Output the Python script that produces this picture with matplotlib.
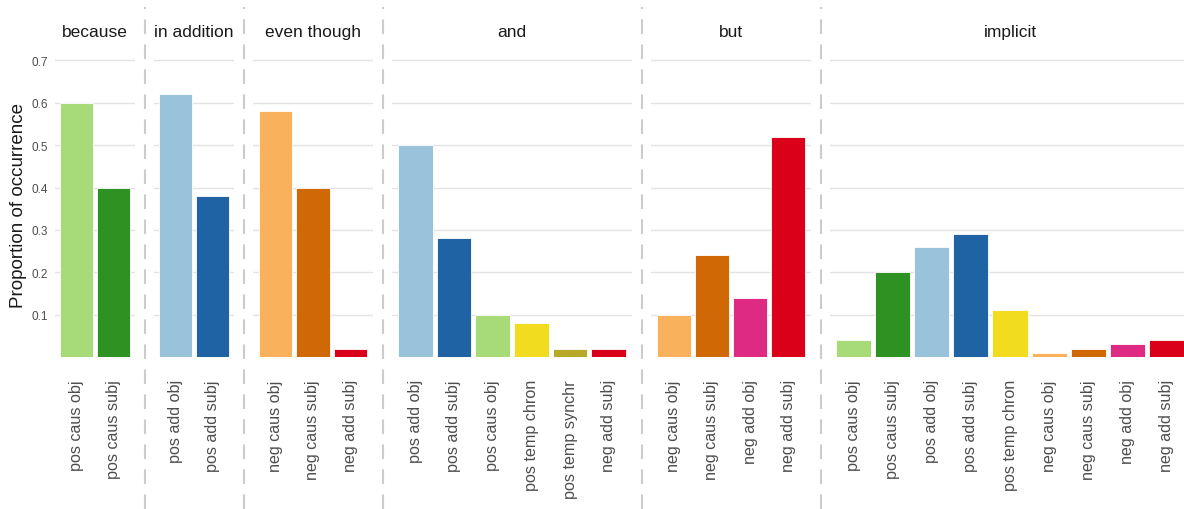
import matplotlib
matplotlib.use("Agg")
import matplotlib.pyplot as plt
from matplotlib.lines import Line2D

plt.rcParams['font.family'] = ['Liberation Sans', 'DejaVu Sans']

# facets (connectives) and their categories / proportions
facets = ['because', 'in addition', 'even though', 'and', 'but', 'implicit']

because_cats = ['pos caus obj', 'pos caus subj']
because_vals = [0.60, 0.40]

inaddition_cats = ['pos add obj', 'pos add subj']
inaddition_vals = [0.62, 0.38]

eventhough_cats = ['neg caus obj', 'neg caus subj', 'neg add subj']
eventhough_vals = [0.58, 0.40, 0.02]

and_cats = ['pos add obj', 'pos add subj', 'pos caus obj', 'pos temp chron',
            'pos temp synchr', 'neg add subj']
and_vals = [0.50, 0.28, 0.10, 0.08, 0.02, 0.02]

but_cats = ['neg caus obj', 'neg caus subj', 'neg add obj', 'neg add subj']
but_vals = [0.10, 0.24, 0.14, 0.52]

implicit_cats = ['pos caus obj', 'pos caus subj', 'pos add obj', 'pos add subj',
                 'pos temp chron', 'neg caus obj', 'neg caus subj', 'neg add obj',
                 'neg add subj']
implicit_vals = [0.04, 0.20, 0.26, 0.29, 0.11, 0.01, 0.02, 0.03, 0.04]

# one colour per relation type
colors = {
    'pos caus obj': '#A6DB78',
    'pos caus subj': '#2E9223',
    'pos add obj': '#98C3DB',
    'pos add subj': '#1F63A5',
    'pos temp chron': '#F2DC20',
    'pos temp synchr': '#B7A827',
    'neg caus obj': '#FAB15B',
    'neg caus subj': '#D06806',
    'neg add obj': '#DE2A83',
    'neg add subj': '#DB0019',
}

panels = [
    (because_cats, because_vals),
    (inaddition_cats, inaddition_vals),
    (eventhough_cats, eventhough_vals),
    (and_cats, and_vals),
    (but_cats, but_vals),
    (implicit_cats, implicit_vals),
]

W, H = 1184, 510
fig = plt.figure(figsize=(W / 100, H / 100), dpi=100)

# layout in pixels
left = 55
per_cat = 40
gap = 19
bottom_px = 358
top_px = 53
ymax = 0.72

x = left
for i, (name, (cats, vals)) in enumerate(zip(facets, panels)):
    n = len(cats)
    w = per_cat * n
    ax = fig.add_axes([x / W, 1 - bottom_px / H, w / W, (bottom_px - top_px) / H])
    pos = list(range(n))
    ax.bar(pos, vals, width=0.9, color=[colors[c] for c in cats],
           edgecolor='white', linewidth=0.6, zorder=3)
    ax.set_xlim(-0.6, n - 0.4)
    ax.set_ylim(0, ymax)
    ax.set_yticks([0.1, 0.2, 0.3, 0.4, 0.5, 0.6, 0.7])
    ax.grid(axis='y', color='#E3E3E3', linewidth=1.0, zorder=0)
    for s in ax.spines.values():
        s.set_visible(False)
    ax.set_xticks(pos)
    ax.set_xticklabels(cats, rotation=90, ha='center', va='top',
                       fontsize=11.6, color='#4D4D4D')
    ax.tick_params(axis='x', length=0, pad=16)
    if i == 0:
        ax.tick_params(axis='y', length=0, pad=5, labelsize=8.5, labelcolor='#4D4D4D')
        ax.set_ylabel('Proportion of occurrence', fontsize=13.5, color='#1A1A1A',
                      labelpad=3)
    else:
        ax.tick_params(axis='y', length=0, labelleft=False)
    # strip label
    fig.text((x + w / 2) / W, 1 - 37 / H, name, ha='center', va='baseline',
             fontsize=12.5, color='#1A1A1A')
    x += w
    if i < len(facets) - 1:
        sx = (x + gap / 2) / W
        fig.add_artist(Line2D([sx, sx], [0, 1 - 8 / H], transform=fig.transFigure,
                              color='#CCCCCC', linewidth=1.5,
                              linestyle=(0, (7, 5))))
    x += gap

fig.savefig('out.png', dpi=100)
